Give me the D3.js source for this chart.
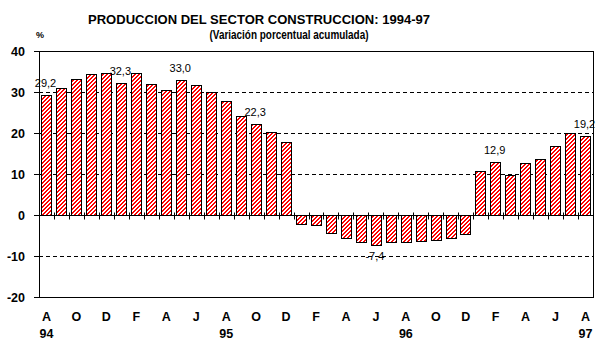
<!DOCTYPE html>
<html>
<head>
<meta charset="utf-8">
<script src="https://cdn.jsdelivr.net/npm/d3@7"></script>
<style>
  body { margin: 0; background: #fff; }
  text { font-family: "Liberation Sans", Arial, sans-serif; }
</style>
</head>
<body>
<div class="grafico"></div>
<script>
// meses ago-94 .. ago-97
var meses = ['A','S','O','N','D','E','F','M','A','M','J','J','A','S','O','N','D',
             'E','F','M','A','M','J','J','A','S','O','N','D',
             'E','F','M','A','M','J','J','A'];
var anios = {0: '94', 12: '95', 24: '96', 36: '97'};
var valores = [29.2, 30.9, 33.1, 34.4, 34.6, 32.3, 34.6, 31.9, 30.4, 33.0, 31.6,
               29.9, 27.9, 24.2, 22.3, 20.2, 17.7,
               -2.3, -2.5, -4.5, -5.7, -6.7, -7.4, -6.7, -6.7, -6.4, -6.2, -5.7, -4.6,
               10.7, 12.9, 9.8, 12.6, 13.7, 16.8, 19.9, 19.2];
var etiquetas = {0: '29,2', 5: '32,3', 9: '33,0', 14: '22,3', 22: '-7,4', 30: '12,9', 36: '19,2'};
var ticksY = [40, 30, 20, 10, 0, -10, -20];
var grilla = [30, 20, 10, -10];

var svg = d3.select('.grafico')
  .append('svg')
  .attr('width', 605)
  .attr('height', 363);

// trama de rayas rojas: se arma en un canvas de 4x4
var lienzo = document.createElement('canvas');
lienzo.width = 4;
lienzo.height = 4;
var ctx = lienzo.getContext('2d');
ctx.fillStyle = '#fff';
ctx.fillRect(0, 0, 4, 4);
ctx.fillStyle = '#ff0000';
for (var px = 0; px < 4; px++) {
  for (var py = 0; py < 4; py++) {
    if ((px + py) % 4 < 2) ctx.fillRect(px, py, 1, 1);
  }
}

var defs = svg.append('defs');
defs.append('pattern')
  .attr('id', 'rayas')
  .attr('patternUnits', 'userSpaceOnUse')
  .attr('width', 4)
  .attr('height', 4)
  .append('image')
  .attr('href', lienzo.toDataURL())
  .attr('width', 4)
  .attr('height', 4)
  .style('image-rendering', 'pixelated');

const xScale = d3.scaleBand()
  .domain(d3.range(valores.length))
  .range([39, 593])
  .paddingInner(0.3)
  .paddingOuter(0.15);

const yScale = d3.scaleLinear()
  .domain([-20, 40])
  .range([297, 51]);

// titulos
svg.append('text')
  .attr('x', 259).attr('y', 24)
  .attr('text-anchor', 'middle')
  .attr('font-size', 13).attr('font-weight', 'bold')
  .attr('textLength', 342).attr('lengthAdjust', 'spacingAndGlyphs')
  .text('PRODUCCION DEL SECTOR CONSTRUCCION: 1994-97');

svg.append('text')
  .attr('x', 289).attr('y', 39)
  .attr('text-anchor', 'middle')
  .attr('font-size', 12).attr('font-weight', 'bold')
  .attr('textLength', 159).attr('lengthAdjust', 'spacingAndGlyphs')
  .text('(Variación porcentual acumulada)');

svg.append('text')
  .attr('x', 36).attr('y', 38)
  .attr('font-size', 9).attr('font-weight', 'bold')
  .text('%');

// grilla punteada
svg.append('g')
  .selectAll('line')
  .data(grilla)
  .enter()
  .append('line')
  .attr('x1', 39).attr('x2', 593)
  .attr('y1', d => Math.round(yScale(d)) + 0.5)
  .attr('y2', d => Math.round(yScale(d)) + 0.5)
  .attr('stroke', '#000')
  .attr('stroke-dasharray', '4,3');

// barras
svg.append('g')
  .selectAll('rect')
  .data(valores)
  .enter()
  .append('rect')
  .attr('x', (d, i) => Math.round(xScale(i)) + 0.5)
  .attr('y', d => Math.round(yScale(Math.max(d, 0))) + 0.5)
  .attr('width', Math.round(xScale.bandwidth()))
  .attr('height', d => Math.round(Math.abs(yScale(d) - yScale(0))))
  .attr('fill', 'url(#rayas)')
  .attr('stroke', '#000')
  .attr('stroke-width', 1)
  .attr('shape-rendering', 'crispEdges');

// marco
svg.append('rect')
  .attr('x', 39.5).attr('y', Math.round(yScale(40)) + 0.5)
  .attr('width', 554)
  .attr('height', Math.round(yScale(-20) - yScale(40)))
  .attr('fill', 'none')
  .attr('stroke', '#000');

// linea cero
var y0 = Math.round(yScale(0)) + 0.5;
svg.append('line')
  .attr('x1', 39).attr('x2', 593)
  .attr('y1', y0).attr('y2', y0)
  .attr('stroke', '#000');

// ticks entre meses
svg.append('g')
  .selectAll('line')
  .data(d3.range(1, valores.length))
  .enter()
  .append('line')
  .attr('x1', i => Math.round(xScale.range()[0] + i * xScale.step()) + 0.5)
  .attr('x2', i => Math.round(xScale.range()[0] + i * xScale.step()) + 0.5)
  .attr('y1', y0 - 3).attr('y2', y0 + 4)
  .attr('stroke', '#000');

// eje y
var ejeY = svg.append('g');
ejeY.selectAll('line')
  .data(ticksY)
  .enter()
  .append('line')
  .attr('x1', 34).attr('x2', 39)
  .attr('y1', d => Math.round(yScale(d)) + 0.5)
  .attr('y2', d => Math.round(yScale(d)) + 0.5)
  .attr('stroke', '#000');
ejeY.selectAll('text')
  .data(ticksY)
  .enter()
  .append('text')
  .attr('x', 25)
  .attr('y', d => yScale(d) + 4.5)
  .attr('text-anchor', 'end')
  .attr('font-size', 12.5).attr('font-weight', 'bold')
  .text(d => d);

// eje x: meses cada dos
svg.append('g')
  .selectAll('text')
  .data(meses.map((m, i) => ({m: m, i: i})).filter(d => d.i % 2 == 0))
  .enter()
  .append('text')
  .attr('x', d => xScale(d.i) + xScale.bandwidth() / 2)
  .attr('y', 321)
  .attr('text-anchor', 'middle')
  .attr('font-size', 12.5).attr('font-weight', 'bold')
  .text(d => d.m);

svg.append('g')
  .selectAll('text')
  .data(Object.keys(anios))
  .enter()
  .append('text')
  .attr('x', i => xScale(+i) + xScale.bandwidth() / 2)
  .attr('y', 338)
  .attr('text-anchor', 'middle')
  .attr('font-size', 12.5).attr('font-weight', 'bold')
  .text(i => anios[i]);

// etiquetas de datos
svg.append('g')
  .selectAll('text')
  .data(Object.keys(etiquetas))
  .enter()
  .append('text')
  .attr('x', i => xScale(+i) + xScale.bandwidth() / 2 - 1)
  .attr('y', i => valores[i] >= 0 ? yScale(valores[i]) - 8 : yScale(valores[i]) + 15)
  .attr('text-anchor', 'middle')
  .attr('font-size', 11)
  .text(i => etiquetas[i]);
</script>
</body>
</html>
